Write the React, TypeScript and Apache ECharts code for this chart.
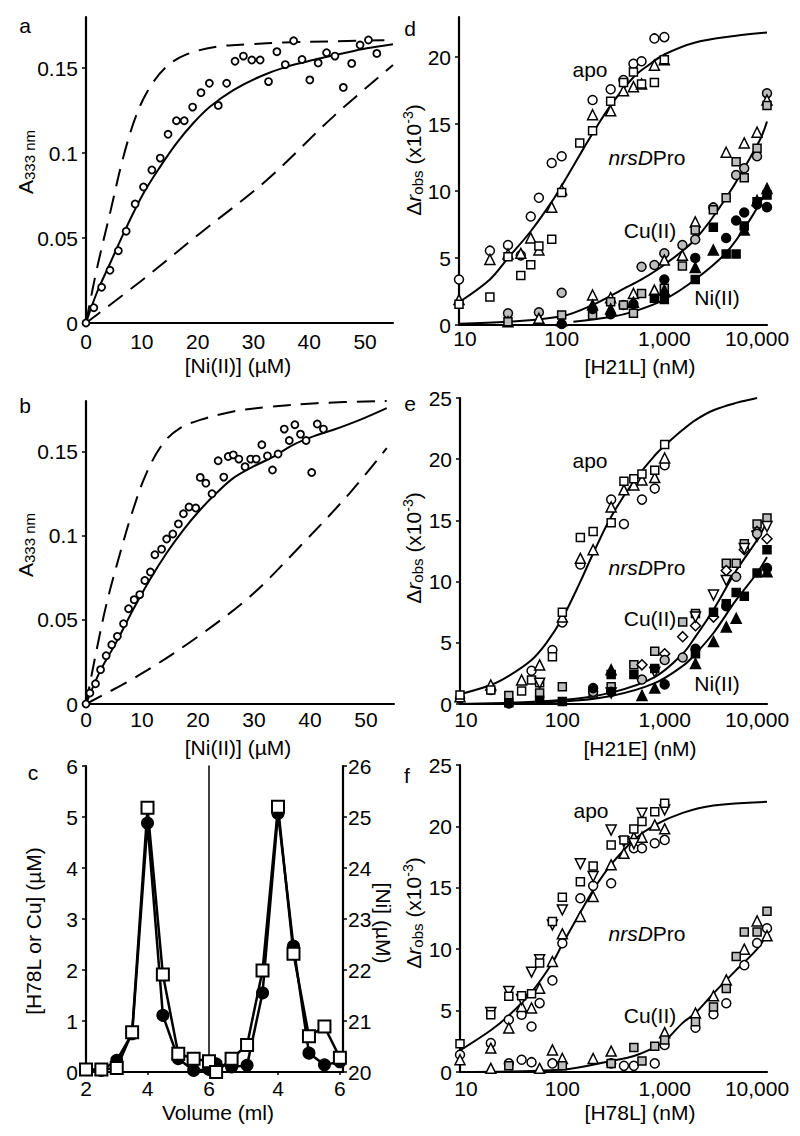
import React, { useEffect, useRef } from 'react';
import * as echarts from 'echarts';

const FONT = '"Liberation Sans", Arial, Helvetica, sans-serif';
const FS = 21;

// ---------- Panel a ----------
const aPts = [[0,0],[1.4,0.009],[2.8,0.021],[4.3,0.031],[5.8,0.0425],[7.2,0.054],[8.8,0.07],[10.3,0.08],[11.8,0.09],[13.3,0.097],[14.7,0.111],[16.2,0.119],[17.6,0.119],[19.1,0.127],[20.6,0.1355],[22.1,0.141],[23.7,0.128],[25.2,0.141],[26.7,0.154],[28.2,0.157],[29.7,0.1547],[31.2,0.1547],[32.7,0.142],[34.2,0.1596],[35.7,0.152],[37.2,0.166],[38.7,0.155],[40.1,0.143],[41.6,0.153],[43.1,0.159],[44.6,0.157],[46.1,0.1386],[47.6,0.1527],[49.1,0.1635],[50.6,0.1665],[52.1,0.1586]];
const aFit = [[0,0],[1.9,0.0175],[4.3,0.035],[7.3,0.0567],[10.3,0.0763],[13.3,0.092],[16.2,0.1057],[19.2,0.1175],[22.2,0.1272],[26.4,0.137],[31.2,0.145],[36,0.1508],[40.7,0.1547],[45.5,0.1582],[50.3,0.1616],[55,0.164]];
const aHi = [[0,0],[1.9,0.0312],[4.3,0.0645],[6.7,0.0978],[9.1,0.123],[11.5,0.139],[14.5,0.151],[18,0.158],[23.4,0.1625],[29.4,0.164],[35.4,0.165],[44.3,0.1657],[55,0.1665]];
const aLo = [[0,0],[9.7,0.0243],[20.4,0.0527],[32.4,0.0841],[44.3,0.1214],[55,0.1518]];

// ---------- Panel b ----------
const bPts = [[0,0],[0.7,0.0065],[1.7,0.012],[2.6,0.0204],[3.6,0.0287],[4.6,0.0352],[5.6,0.0402],[6.7,0.0477],[7.6,0.0566],[8.6,0.062],[9.6,0.065],[10.5,0.0734],[11.5,0.0784],[12.3,0.0887],[13.5,0.092],[14.4,0.098],[15.5,0.101],[16.5,0.107],[17.4,0.113],[18.4,0.117],[19.6,0.1164],[20.4,0.1346],[21.4,0.1312],[22.5,0.1249],[23.6,0.1445],[24.6,0.1348],[25.4,0.147],[26.3,0.148],[27.3,0.1455],[28.4,0.141],[29.4,0.1455],[30.4,0.1455],[31.4,0.154],[32.4,0.1474],[33.3,0.139],[34.3,0.1485],[35.4,0.1633],[36.3,0.1565],[37.3,0.1659],[38.3,0.1603],[39.3,0.1565],[40.3,0.1375],[41.3,0.1663],[42.4,0.1633]];
const bFit = [[0,0],[2.5,0.0194],[5.5,0.0372],[8.4,0.056],[11.4,0.0738],[14.4,0.0897],[17.4,0.1035],[20.4,0.1154],[23.3,0.1253],[26.3,0.1342],[29.9,0.1411],[33.5,0.147],[37,0.154],[40.6,0.159],[44.2,0.1629],[48.9,0.1688],[53.7,0.1758]];
const bHi = [[0,0],[1.9,0.0322],[3.7,0.06],[6.1,0.0897],[8.4,0.1154],[10.8,0.1372],[13.8,0.155],[16.8,0.1639],[20.4,0.1688],[26.3,0.1738],[32.3,0.1764],[41.2,0.1787],[53.7,0.18]];
const bLo = [[0,0],[9.6,0.0174],[19.2,0.0382],[29.3,0.0639],[38.2,0.0936],[47.1,0.1253],[53.7,0.152]];

// ---------- Panel c ----------
const cVol = [2, 2.5, 3, 3.5, 4, 4.5, 5, 5.5, 6];
const cLeftCircle = [0.05, 0.03, 0.23, 0.75, 4.88, 1.11, 0.26, 0.03, 0.05];
const cLeftSquare = [0.05, 0.05, 0.08, 0.78, 5.18, 1.91, 0.36, 0.26, 0.21];
const cRightCircle = [20.16, 20.1, 20.13, 21.55, 25.07, 22.47, 20.37, 20.14, 20.2];
const cRightSquare = [20.0, 20.26, 20.53, 21.99, 25.2, 22.32, 20.7, 20.89, 20.28];

// ---------- Panel d ----------
const dApoCircle = [[10,3.4],[20,5.55],[30,5.97],[40,5.2],[50,8.1],[60,9.5],[80,12.1],[100,12.6],[200,16.8],[300,17.6],[400,18.3],[500,19.5],[600,19.7],[800,21.4],[1000,21.5]];
const dApoTri = [[10,1.9],[20,4.9],[30,5.3],[40,5.35],[50,6.5],[60,5.6],[80,8.8],[100,10.1],[200,15.7],[300,16.0],[400,17.5],[500,17.8],[600,18.0],[800,19.4],[1000,19.8]];
const dApoSq = [[10,1.55],[20,2.1],[30,5.1],[40,3.7],[50,4.5],[60,5.9],[80,6.4],[100,9.9],[150,13.6],[200,14.5],[300,16.7],[400,18.1],[500,18.9],[600,18.0],[800,18.1],[1000,19.8]];
const dCuCircle = [[30,0.87],[60,0.95],[100,2.41],[400,1.49],[500,1.57],[600,4.35],[800,4.48],[1000,5.35],[1500,5.97],[2000,6.39],[3000,8.78],[5000,11.2],[6000,11.7],[8000,12.6],[10000,17.3]];
const dCuTri = [[30,0.25],[60,0.5],[100,0.32],[200,2.24],[300,2.04],[500,2.36],[800,2.61],[1000,4.85],[1500,5.2],[2000,7.7],[4000,12.9],[6000,13.6],[8000,14.4],[10000,16.8]];
const dCuSq = [[30,0.25],[100,0.75],[200,0.75],[300,1.74],[400,1.49],[500,0.87],[600,2.36],[1000,2.74],[1500,4.4],[2000,7.1],[3000,8.6],[4000,9.5],[5000,12.2],[6000,11.0],[8000,13.2],[10000,16.4]];
const dNiCircle = [[100,0.07],[200,1.2],[300,0.8],[1000,3.4],[2000,5.0],[4000,6.5],[5000,7.8],[6000,8.4],[8000,9.0],[10000,8.8]];
const dNiTri = [[200,1.5],[300,1.2],[500,1.7],[1000,2.6],[2000,4.3],[3000,5.6],[6000,7.1],[8000,9.3],[10000,10.2]];
const dNiSq = [[800,2.0],[1000,1.9],[2000,3.4],[3000,7.3],[4000,5.3],[5000,5.3],[6000,7.4],[8000,9.2],[10000,9.7]];
const dApoFit = [[10,1.7],[20,3.4],[30,5.0],[50,7.0],[80,9.2],[100,10.4],[150,12.7],[200,14.3],[300,16.4],[500,18.5],[700,19.4],[1000,20.2],[2000,21.1],[5000,21.6],[10000,21.85]];
const dCuFit = [[10,0.1],[30,0.25],[100,0.65],[200,1.5],[400,2.7],[600,3.4],[1000,4.5],[2000,6.4],[4000,9.5],[8500,13.8],[10000,15.2]];
const dNiFit = [[130,0.25],[300,0.6],[500,1.0],[1000,1.9],[2000,3.4],[4000,5.4],[7000,8.0],[10000,10.1]];

// ---------- Panel e ----------
const eApoCircle = [[10,0.46],[20,1.14],[50,2.72],[80,4.41],[100,6.67],[150,11.4],[300,16.7],[400,14.7],[600,16.7],[800,17.6],[1000,19.5]];
const eApoTri = [[10,0.6],[20,1.55],[40,1.96],[60,3.19],[100,7.1],[150,11.9],[200,12.6],[300,16.1],[400,17.5],[500,17.9],[600,18.3],[800,18.5],[1000,20.1]];
const eApoSq = [[10,0.74],[20,1.14],[40,1.06],[50,1.96],[60,1.74],[80,3.87],[100,7.49],[150,13.6],[200,14.1],[300,14.8],[400,18.2],[500,18.4],[600,18.8],[800,19.1],[1000,21.2]];
const eCuSq = [[30,0.7],[60,0.9],[100,1.4],[200,0.9],[300,1.4],[500,3.2],[800,4.3],[1500,6.7],[2000,7.4],[4000,11.5],[5000,11.5],[6000,13.1],[8000,14.7],[10000,15.2]];
const eCuDiamond = [[600,3.2],[1000,4.1],[1500,5.5],[2000,6.4],[3000,7.1],[4000,10.9],[6000,12.6],[8000,14.1],[10000,13.5]];
const eCuDown = [[60,1.7],[300,0.9],[800,2.6],[2000,7.1],[3000,8.9],[4000,10.1],[6000,12.7],[8000,13.7],[10000,14.5]];
const eCuCircle = [[200,1.0],[600,2.0],[1000,3.6],[1500,3.8],[5000,10.4],[8000,13.9]];
const eNiSq = [[30,0.1],[60,0.3],[100,0.2],[300,2.4],[500,2.4],[800,2.9],[2000,4.1],[3000,7.5],[4000,8.2],[5000,9.1],[6000,8.8],[8000,10.7],[10000,12.6]];
const eNiTri = [[300,2.8],[600,0.7],[800,1.3],[2000,3.3],[3000,5.1],[4000,6.3],[5000,7.0],[10000,10.8]];
const eNiCircle = [[30,0.05],[200,1.3],[300,1.0],[1000,1.6],[2000,4.5],[4000,8.0],[10000,11.1]];
const eApoFit = [[10,0.8],[20,1.55],[30,2.3],[50,3.6],[70,5.0],[100,7.0],[150,10.0],[200,12.3],[300,15.3],[500,18.2],[800,20.3],[1000,21.1],[1500,22.4],[2000,23.2],[3000,24.0],[5000,24.6],[8000,25.0]];
const eCuFit = [[10,0],[100,0.33],[300,0.93],[800,2.2],[1500,4.1],[2000,5.5],[3000,7.7],[5000,10.9],[8000,13.4],[10000,14.9]];
const eNiFit = [[10,0],[100,0.2],[300,0.65],[800,1.7],[1500,3.1],[2000,4.1],[3000,5.8],[5000,8.5],[8000,10.7],[10000,12.0]];

// ---------- Panel f ----------
const fApoSq = [[10,2.3],[20,4.66],[30,6.16],[40,6.2],[50,6.37],[60,8.87],[80,12.26],[100,14.24],[150,15.5],[200,16.78],[300,18.49],[400,18.9],[500,19.79],[600,20.39],[800,21.2],[1000,21.88]];
const fApoDown = [[20,4.85],[30,6.56],[40,5.9],[50,8.13],[60,9.14],[80,11.98],[100,13.2],[150,16.95],[200,15.92],[300,19.7],[400,18.76],[500,18.6],[600,21.07],[1000,21.34]];
const fApoCircle = [[10,1.41],[20,2.36],[30,4.26],[40,4.66],[50,3.71],[60,5.61],[80,7.46],[100,10.49],[150,14.15],[200,15.16],[300,15.37],[500,18.22],[600,18.22],[800,18.63],[1000,18.9]];
const fApoTri = [[10,1.0],[20,1.95],[30,3.58],[40,5.34],[50,5.21],[60,6.83],[80,9.0],[100,11.25],[150,12.66],[200,14.29],[300,16.87],[400,17.81],[500,19.12],[600,19.12],[800,20.12],[1000,19.8]];
const fCuCircle = [[30,0.7],[40,1.0],[50,0.8],[80,0.7],[300,0.7],[400,0.5],[500,0.5],[800,0.7],[1000,2.2],[2000,3.6],[3000,4.7],[4000,5.6],[6000,8.7],[8000,10.5],[10000,11.7]];
const fCuTri = [[20,0.3],[60,0.3],[80,1.8],[100,1.1],[200,1.1],[300,1.7],[1000,3.2],[2000,4.8],[3000,6.2],[4000,7.5],[6000,10.0],[8000,12.3],[10000,11.1]];
const fCuSq = [[30,0.5],[100,0.5],[300,0.7],[500,2.0],[600,0.9],[800,2.1],[1000,2.6],[2000,4.1],[3000,5.3],[4000,6.8],[5000,9.4],[6000,11.4],[8000,11.4],[10000,13.1]];
const fApoFit = [[10,1.76],[20,3.4],[30,4.6],[50,6.5],[80,8.9],[100,10.4],[150,13.0],[200,14.8],[300,16.9],[500,18.9],[800,20.1],[1500,21.1],[3000,21.7],[10000,22.0]];
const fCuFit = [[10,0],[100,0.2],[300,0.9],[500,1.3],[800,2.0],[1000,2.5],[1500,4.0],[2000,4.8],[3000,6.4],[5000,8.3],[8000,10.0],[10000,11.2]];

// tick labels
const abXTicks = [0, 10, 20, 30, 40, 50];
const abYTicks = [0, 0.05, 0.1, 0.15];
const cLeftXTicks = [2, 4, 6];
const cRightXTicks = [4, 6];
const cLeftYTicks = [0, 1, 2, 3, 4, 5, 6];
const cRightYTicks = [20, 21, 22, 23, 24, 25, 26];
const dYTicks = [0, 5, 10, 15, 20];
const efYTicks = [0, 5, 10, 15, 20, 25];

const GRAY = '#bdbdbd';

const lineAxis = { show: true, onZero: false, lineStyle: { color: '#000', width: 2.2 } };
const yTick = { show: true, inside: false, length: 4, lineStyle: { color: '#000', width: 1.5 } };
const lbl = (margin: number, extra: any = {}) => ({ color: '#000', fontFamily: FONT, fontSize: FS, margin, ...extra });
const fmt = (ticks: number[]) => (v: number) => (ticks.some((t) => Math.abs(t - v) < 1e-9) ? String(+v.toFixed(6)) : '');

function valX(gridIndex: number, min: number, max: number, ticks: number[], margin: number, showTick = false, interval?: number) {
  return {
    type: 'value', gridIndex, min, max, interval,
    axisLine: lineAxis,
    axisTick: { ...yTick, show: showTick, length: 3, customValues: ticks },
    splitLine: { show: false },
    axisLabel: lbl(margin, { customValues: ticks, formatter: fmt(ticks) }),
  };
}
function valY(gridIndex: number, min: number, max: number, ticks: number[], interval?: number, position = 'left', margin = 8) {
  return {
    type: 'value', gridIndex, min, max, interval, position,
    axisLine: lineAxis,
    axisTick: { ...yTick, customValues: ticks },
    splitLine: { show: false },
    axisLabel: lbl(margin, { customValues: ticks, formatter: fmt(ticks) }),
  };
}
function logX(gridIndex: number, margin: number) {
  return {
    type: 'log', logBase: 10, gridIndex, min: 10, max: 10000,
    axisLine: lineAxis,
    axisTick: { show: false },
    splitLine: { show: false },
    minorTick: { show: false },
    axisLabel: lbl(margin, {
      formatter: (v: number) => (v >= 10000 ? '{s|10,000}' : v >= 1000 ? '1,000' : v <= 10 ? '{f|10}' : String(v)),
      rich: {
        s: { fontFamily: FONT, fontSize: FS, color: '#000', padding: [0, 20, 0, 0] },
        f: { fontFamily: FONT, fontSize: FS, color: '#000', padding: [0, 0, 0, 12] },
      },
    }),
  };
}

function pts(xi: number, yi: number, data: any[], symbol: string, fill: string, size: number, rotate = 0, bw = 1.5) {
  return {
    type: 'scatter', xAxisIndex: xi, yAxisIndex: yi, data, symbol, symbolSize: size, symbolRotate: rotate,
    itemStyle: { color: fill, borderColor: '#000', borderWidth: bw, opacity: 1 }, z: 3, silent: true,
  };
}
function curve(xi: number, yi: number, data: any[], dashed = false) {
  return {
    type: 'line', xAxisIndex: xi, yAxisIndex: yi, data, showSymbol: false, symbol: 'none', smooth: 0.35, clip: false,
    lineStyle: { color: '#000', width: 2, type: dashed ? [18, 10] : 'solid' }, z: 2, silent: true,
  };
}
function cLine(xi: number, yi: number, ys: number[], symbol: string, fill: string, size: number) {
  return {
    type: 'line', xAxisIndex: xi, yAxisIndex: yi, data: cVol.map((v, i) => [v, ys[i]]),
    symbol, symbolSize: size, showSymbol: true, clip: false,
    lineStyle: { color: '#000', width: 2.5 },
    itemStyle: { color: fill, borderColor: '#000', borderWidth: 2 }, z: symbol === 'rect' ? 4 : 3, silent: true,
  };
}

function txt(x: number, y: number, text: string, rich?: any, rotation = 0, extra: any = {}) {
  return {
    type: 'text', x, y, rotation, silent: true,
    style: { text, rich, fontFamily: FONT, fontSize: FS, fill: '#000', align: 'center', verticalAlign: 'middle', ...extra },
  };
}
const richBase = {
  n: { fontFamily: FONT, fontSize: FS, fill: '#000', lineHeight: 24 },
  i: { fontFamily: FONT, fontSize: FS, fill: '#000', fontStyle: 'italic', lineHeight: 24 },
  sub: { fontFamily: FONT, fontSize: 15, fill: '#000', lineHeight: 17, verticalAlign: 'bottom' },
  sup: { fontFamily: FONT, fontSize: 14, fill: '#000', lineHeight: 15, verticalAlign: 'top' },
};

const option: any = {
  animation: false,
  backgroundColor: '#fff',
  grid: [
    { left: 86, top: 17, width: 307, height: 306 },
    { left: 86, top: 401, width: 308, height: 303 },
    { left: 86, top: 766, width: 123, height: 306 },
    { left: 209, top: 766, width: 134, height: 306 },
    { left: 459, top: 17, width: 308, height: 308 },
    { left: 460, top: 398, width: 307, height: 306 },
    { left: 460, top: 765, width: 307, height: 307 },
  ],
  xAxis: [
    valX(0, 0, 55, abXTicks, 8, false, 10),
    valX(1, 0, 55, abXTicks, 5, false, 10),
    valX(2, 2, 6, cLeftXTicks, 6, true, 2),
    valX(3, 1.77, 6.1, cRightXTicks, 6, true),
    logX(4, 3),
    logX(5, 5),
    logX(6, 6),
  ],
  yAxis: [
    valY(0, 0, 0.18, abYTicks, 0.05),
    valY(1, 0, 0.18, abYTicks, 0.05),
    valY(2, 0, 6, cLeftYTicks, 1),
    { type: 'value', gridIndex: 3, min: 0, max: 6, position: 'left', axisLine: { show: true, onZero: false, lineStyle: { color: '#000', width: 1.5 } }, axisTick: { show: false }, axisLabel: { show: false }, splitLine: { show: false } },
    valY(3, 20, 26, cRightYTicks, 1, 'right', 5),
    valY(4, 0, 23, dYTicks, 5),
    valY(5, 0, 25, efYTicks, 5),
    valY(6, 0, 25, efYTicks, 5),
  ],
  series: [
    // a
    curve(0, 0, aHi, true), curve(0, 0, aLo, true), curve(0, 0, aFit),
    pts(0, 0, aPts, 'circle', '#fff', 7, 0, 1.8),
    // b
    curve(1, 1, bHi, true), curve(1, 1, bLo, true), curve(1, 1, bFit),
    pts(1, 1, bPts, 'circle', '#fff', 7, 0, 1.8),
    // c
    cLine(2, 2, cLeftCircle, 'circle', '#000', 11),
    cLine(2, 2, cLeftSquare, 'rect', '#fff', 12),
    cLine(3, 4, cRightCircle, 'circle', '#000', 11),
    cLine(3, 4, cRightSquare, 'rect', '#fff', 12),
    // d
    curve(4, 5, dApoFit), curve(4, 5, dCuFit), curve(4, 5, dNiFit),
    pts(4, 5, dApoCircle, 'circle', '#fff', 9),
    pts(4, 5, dApoTri, 'triangle', '#fff', 10),
    pts(4, 5, dApoSq, 'rect', '#fff', 8),
    pts(4, 5, dCuCircle, 'circle', GRAY, 9),
    pts(4, 5, dCuTri, 'triangle', '#fff', 10),
    pts(4, 5, dCuSq, 'rect', GRAY, 8),
    pts(4, 5, dNiCircle, 'circle', '#000', 9),
    pts(4, 5, dNiTri, 'triangle', '#000', 10),
    pts(4, 5, dNiSq, 'rect', '#000', 8),
    // e
    curve(5, 6, eApoFit), curve(5, 6, eCuFit), curve(5, 6, eNiFit),
    pts(5, 6, eApoCircle, 'circle', '#fff', 9),
    pts(5, 6, eApoTri, 'triangle', '#fff', 10),
    pts(5, 6, eApoSq, 'rect', '#fff', 8),
    pts(5, 6, eCuSq, 'rect', GRAY, 8),
    pts(5, 6, eCuDiamond, 'diamond', '#fff', 10),
    pts(5, 6, eCuDown, 'triangle', '#fff', 10, 180),
    pts(5, 6, eCuCircle, 'circle', GRAY, 9),
    pts(5, 6, eNiSq, 'rect', '#000', 8),
    pts(5, 6, eNiTri, 'triangle', '#000', 10),
    pts(5, 6, eNiCircle, 'circle', '#000', 9),
    // f
    curve(6, 7, fApoFit), curve(6, 7, fCuFit),
    pts(6, 7, fApoCircle, 'circle', '#fff', 9),
    pts(6, 7, fApoTri, 'triangle', '#fff', 10),
    pts(6, 7, fApoDown, 'triangle', '#fff', 10, 180),
    pts(6, 7, fApoSq, 'rect', '#fff', 8),
    pts(6, 7, fCuCircle, 'circle', '#fff', 9),
    pts(6, 7, fCuTri, 'triangle', '#fff', 10),
    pts(6, 7, fCuSq, 'rect', GRAY, 8),
  ],
  graphic: [
    // panel letters
    txt(25, 25, 'a'), txt(410, 28, 'd'), txt(25, 405, 'b'), txt(410, 403, 'e'), txt(33, 772, 'c'), txt(407, 775, 'f'),
    // x titles
    txt(238, 365, '[Ni(II)] (µM)'),
    txt(238, 747, '[Ni(II)] (µM)'),
    txt(218, 1112, 'Volume (ml)'),
    txt(640, 366, '[H21L] (nM)'),
    txt(640, 748, '[H21E] (nM)'),
    txt(640, 1112, '[H78L] (nM)'),
    // y titles
    txt(25, 162, '{n|A}{sub|333 nm}', richBase, Math.PI / 2),
    txt(25, 545, '{n|A}{sub|333 nm}', richBase, Math.PI / 2),
    txt(33, 931, '[H78L or Cu] (µM)', undefined, Math.PI / 2),
    txt(383, 923, '[Ni] (µM)', undefined, -Math.PI / 2),
    txt(413, 160, '{n|Δ}{i|r}{sub|obs}{n| (x10}{sup|-3}{n|)}', richBase, Math.PI / 2),
    txt(413, 548, '{n|Δ}{i|r}{sub|obs}{n| (x10}{sup|-3}{n|)}', richBase, Math.PI / 2),
    txt(413, 913, '{n|Δ}{i|r}{sub|obs}{n| (x10}{sup|-3}{n|)}', richBase, Math.PI / 2),
    // annotations d
    txt(590, 69, 'apo'),
    txt(647, 157, '{i|nrsD}{n|Pro}', richBase),
    txt(650, 230, 'Cu(II)'),
    txt(717, 297, 'Ni(II)'),
    // annotations e
    txt(590, 460, 'apo'),
    txt(647, 567, '{i|nrsD}{n|Pro}', richBase),
    txt(650, 618, 'Cu(II)'),
    txt(717, 683, 'Ni(II)'),
    // annotations f
    txt(591, 810, 'apo'),
    txt(647, 933, '{i|nrsD}{n|Pro}', richBase),
    txt(650, 1015, 'Cu(II)'),
  ],
};

export default function App() {
  const ref = useRef<HTMLDivElement>(null);
  useEffect(() => {
    if (!ref.current) return;
    const chart = echarts.init(ref.current, null, { renderer: 'svg' });
    chart.setOption(option);
    return () => chart.dispose();
  }, []);
  return <div ref={ref} style={{ position: 'absolute', left: 0, top: 0, width: 800, height: 1136, background: '#fff' }} />;
}
